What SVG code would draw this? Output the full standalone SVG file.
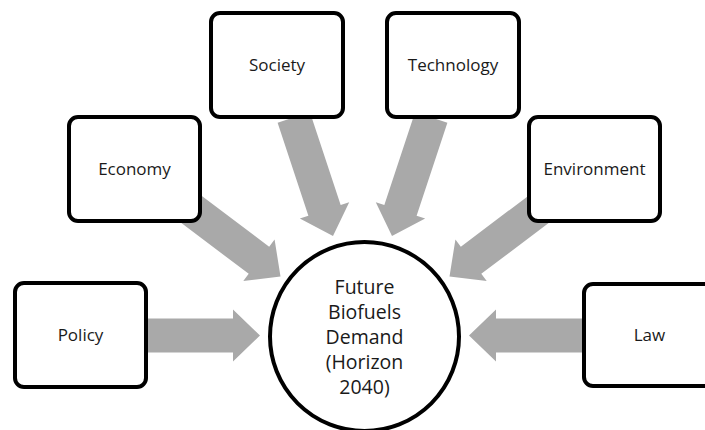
<svg xmlns="http://www.w3.org/2000/svg" xmlns:xlink="http://www.w3.org/1999/xlink" width="705" height="430" viewBox="0 0 705 430">
  <style>
    .box { fill: #ffffff; stroke: #000000; stroke-width: 4; }
    .lbl { font-family: "Open Sans", "DejaVu Sans", sans-serif; font-size: 17px; fill: #1a1a1a; text-anchor: middle; }
    .clbl { font-family: "Open Sans", "DejaVu Sans", sans-serif; font-size: 19.5px; fill: #1a1a1a; text-anchor: middle; }
    .arrow { fill: #a9a9a9; stroke: none; }
  </style>
  <defs>
    <path id="fat-arrow" d="M -125 -17 L -27 -17 L -27 -26 L 0 0 L -27 26 L -27 17 L -125 17 Z"/>
  </defs>
  <rect width="705" height="430" fill="#ffffff"/>
  <g id="connectors">
    <use xlink:href="#fat-arrow" class="arrow" transform="translate(260,335.5)"/>
    <use xlink:href="#fat-arrow" class="arrow" transform="translate(469,335.5) rotate(180)"/>
    <use xlink:href="#fat-arrow" class="arrow" transform="translate(280.5,276.5) rotate(37)"/>
    <use xlink:href="#fat-arrow" class="arrow" transform="translate(449.5,276.5) rotate(143)"/>
    <use xlink:href="#fat-arrow" class="arrow" transform="translate(333,236) rotate(71.7)"/>
    <use xlink:href="#fat-arrow" class="arrow" transform="translate(392,236) rotate(108.3)"/>
  </g>
  <g id="node-policy">
    <rect class="box" x="15" y="283" width="131" height="104" rx="9"/>
    <text class="lbl" x="80.5" y="341">Policy</text>
  </g>
  <g id="node-economy">
    <rect class="box" x="69" y="117" width="131" height="104" rx="9"/>
    <text class="lbl" x="134.5" y="175">Economy</text>
  </g>
  <g id="node-society">
    <rect class="box" x="211" y="13" width="132" height="104" rx="9"/>
    <text class="lbl" x="277" y="71">Society</text>
  </g>
  <g id="node-technology">
    <rect class="box" x="387" y="13" width="132" height="104" rx="9"/>
    <text class="lbl" x="453" y="71">Technology</text>
  </g>
  <g id="node-environment">
    <rect class="box" x="529" y="117" width="131" height="104" rx="9"/>
    <text class="lbl" x="594.5" y="175">Environment</text>
  </g>
  <g id="node-law">
    <rect class="box" x="584" y="284" width="131" height="102" rx="9"/>
    <text class="lbl" x="649.5" y="341">Law</text>
  </g>
  <g id="node-demand">
    <circle class="box" cx="364.5" cy="336.5" r="94.5"/>
    <text class="clbl" x="364.5" y="294">Future</text>
    <text class="clbl" x="364.5" y="319">Biofuels</text>
    <text class="clbl" x="364.5" y="344">Demand</text>
    <text class="clbl" x="364.5" y="369">(Horizon</text>
    <text class="clbl" x="364.5" y="394">2040)</text>
  </g>
</svg>
